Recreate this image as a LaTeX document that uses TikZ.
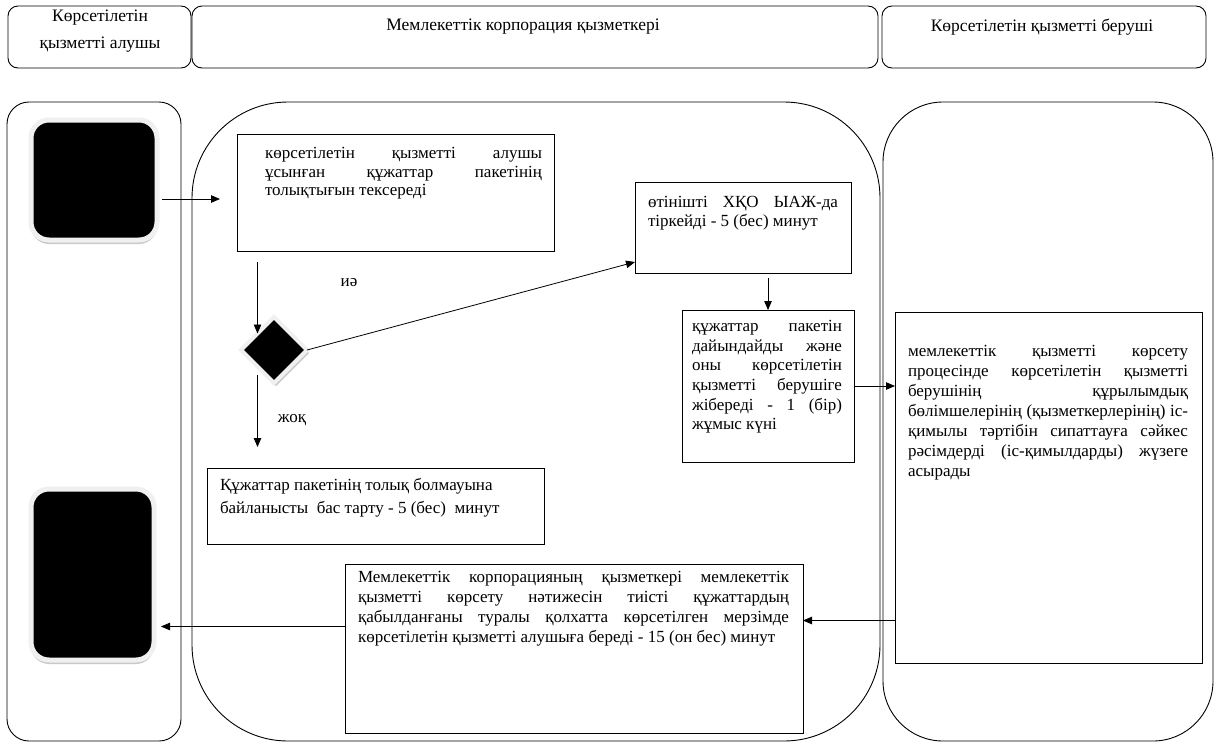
\documentclass[tikz,border=0pt]{standalone}
\usepackage{fontspec}
\setmainfont{Liberation Serif}
\usetikzlibrary{arrows.meta,shapes.geometric,shadows}
\newcommand{\J}[2]{\makebox[#1pt][s]{#2}}
\begin{document}
\begin{tikzpicture}[x=1pt,y=-1pt,
  every node/.style={inner sep=0pt, outer sep=0pt},
  lane/.style={draw, line width=0.9pt, anchor=north west},
  hdr/.style={draw, line width=0.9pt, rounded corners=10pt, anchor=north west},
  box/.style={draw, line width=0.8pt, anchor=north west},
  txt/.style={anchor=north west, align=justify, font=\fontsize{17}{18.5}\selectfont},
  blk/.style={fill=black, draw=gray!12, line width=5pt, rounded corners=18pt,
    drop shadow={shadow xshift=0pt, shadow yshift=-4pt, fill=gray!70, opacity=0.6}},
  arr/.style={-{Triangle[length=9pt,width=7.5pt]}, line width=0.8pt},
  lbl/.style={font=\fontsize{17}{26}\selectfont},
  hlbl/.style={font=\fontsize{17.5}{27}\selectfont}
]
\path[use as bounding box, fill=white] (0,0) rectangle (1217,742);

% lanes
\node[lane, rounded corners=22pt, minimum width=174, minimum height=639] (L1) at (7,102) {};
\node[lane, rounded corners=96pt, minimum width=688, minimum height=639] (L2) at (192,102) {};
\node[lane, rounded corners=60pt, minimum width=330, minimum height=639] (L3) at (883,102) {};

% headers
\node[hdr, minimum width=183, minimum height=62] (H1) at (8,6) {};
\node[hdr, minimum width=686, minimum height=62] (H2) at (192,6) {};
\node[hdr, minimum width=324, minimum height=62] (H3) at (882,6) {};
\node[hlbl, align=center] (H1t) at (100,31) {Көрсетілетін\\қызметті алушы};
\node[hlbl] (H2t) at (523,27) {Мемлекеттік корпорация қызметкері};
\node[hlbl] (H3t) at (1042,27) {Көрсетілетін қызметті беруші};

% start / end
\node[blk, minimum width=126, minimum height=120] (S) at (94,180) {};
\node[blk, minimum width=123, minimum height=171] (E) at (92.5,574.5) {};

% process boxes
\node[box, minimum width=317, minimum height=117] (B1) at (237,134) {};
\node[box, minimum width=216, minimum height=91] (B2) at (635,182) {};
\node[box, minimum width=172, minimum height=152] (B3) at (682,310) {};
\node[box, minimum width=307, minimum height=351] (B4) at (895,312) {};
\node[box, minimum width=337, minimum height=76] (B5) at (207,468) {};
\node[box, minimum width=458, minimum height=169] (B6) at (345,564) {};

% decision
\node[diamond, aspect=1, minimum width=66, minimum height=66, fill=black, draw=gray!12, line width=4pt,
  drop shadow={shadow xshift=2pt, shadow yshift=-3pt, fill=gray!70, opacity=0.6}] (D) at (274,350) {};

% texts
\node[txt, text width=277pt] (T1) at (265,146) {\strut\J{277}{көрсетілетін қызметті алушы}\\\J{277}{ұсынған құжаттар пакетінің}\\толықтығын тексереді};
\node[txt, text width=190pt, font=\fontsize{17}{19}\selectfont] (T2) at (648,194) {\strut\J{190}{өтінішті ХҚО ЫАЖ-да}\\тіркейді - 5 (бес) минут};
\node[txt, text width=150pt, font=\fontsize{17}{19.6}\selectfont] (T3) at (692,318) {\strut\J{150}{құжаттар пакетін}\\\J{150}{дайындайды және}\\\J{150}{оны көрсетілетін}\\\J{150}{қызметті берушіге}\\\J{150}{жібереді - 1 (бір)}\\жұмыс күні};
\node[txt, text width=280pt, font=\fontsize{17}{20}\selectfont] (T4) at (908,342) {\strut\J{280}{мемлекеттік қызметті көрсету}\\\J{280}{процесінде көрсетілетін қызметті}\\\J{280}{берушінің құрылымдық}\\\J{280}{бөлімшелерінің (қызметкерлерінің) іс-}\\\J{280}{қимылы тәртібін сипаттауға сәйкес}\\\J{280}{рәсімдерді (іс-қимылдарды) жүзеге}\\асырады};
\node[txt, text width=320pt, font=\fontsize{17}{23}\selectfont] (T5) at (220,474) {\strut Құжаттар пакетінің толық болмауына\\байланысты\ \ бас тарту - 5 (бес)\ \ минут};
\node[txt, text width=431pt, font=\fontsize{17}{20}\selectfont] (T6) at (358,568) {\strut\J{431}{Мемлекеттік корпорацияның қызметкері мемлекеттік}\\\J{431}{қызметті көрсету нәтижесін тиісті құжаттардың}\\\J{431}{қабылданғаны туралы қолхатта көрсетілген мерзімде}\\көрсетілетін қызметті алушыға береді - 15 (он бес) минут};

\node[lbl] (yes) at (349,283) {иә};
\node[lbl] (no) at (292,420) {жоқ};

% connectors
\draw[arr, shorten <=5pt, shorten >=17pt] ([yshift=-19pt]S.east) -- ([yshift=-6.5pt]B1.west);
\draw[arr] (D.north west |- B1.south) ++(0,11) -- (D.north west);
\draw[arr] (D.east) -- ([yshift=11pt]B2.south west);
\draw[arr, shorten <=5pt] (B2.south -| B3.north) -- (B3.north);
\draw[arr] (B3.east) -- (B3.east -| B4.west);
\coordinate (a6) at ([yshift=28pt]B6.east);
\draw[arr] (a6 -| B4.west) -- (a6);
\coordinate (a7) at ([yshift=22pt]B6.west);
\draw[arr, shorten >=7pt] (a7) -- (a7 -| E.east);
\draw[arr, shorten <=8pt, shorten >=21pt] (D.south west) -- (D.south west |- B5.north);
\end{tikzpicture}
\end{document}
